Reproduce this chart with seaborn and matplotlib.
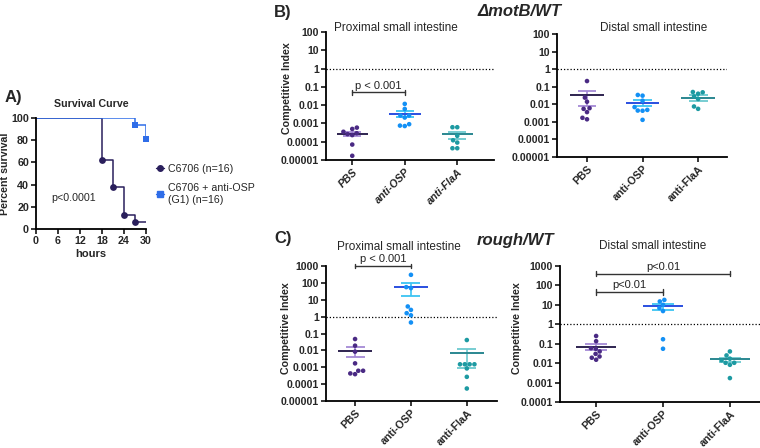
import numpy as np
import pandas as pd
import matplotlib
matplotlib.use('Agg')
import matplotlib.pyplot as plt
from matplotlib.lines import Line2D
import seaborn as sns
import warnings
warnings.filterwarnings('ignore')

sns.set_theme(style='ticks')
plt.rcParams['font.family'] = ['Liberation Sans', 'DejaVu Sans']

# ---- data ----
groups = ['PBS', 'anti-OSP', 'anti-FlaA']

# A) survival, C6706 vs C6706 + anti-OSP
c6706_hours = [0, 18, 21, 24, 27, 30]
c6706_surv = [100, 62.5, 37.5, 12.5, 6.25, 6.25]
osp_hours = [0, 27, 30]
osp_surv = [100, 93.75, 81.25]

# B) motB/WT, proximal
motb_prox = {
    'PBS': [5.9e-4, 5.0e-4, 3.5e-4, 2.9e-4, 2.6e-4, 2.3e-4, 7e-5, 1.7e-5],
    'anti-OSP': [0.0117, 0.0062, 0.0027, 0.0027, 0.0021, 9.1e-4, 7.6e-4, 7.2e-4],
    'anti-FlaA': [6.2e-4, 6.2e-4, 2.1e-4, 1.2e-4, 9e-5, 4.4e-5, 4.4e-5],
}
motb_prox_mean = [2.8e-4, 3.3e-3, 2.5e-4]
motb_prox_hi = [3.5e-4, 4.8e-3, 3.5e-4]
motb_prox_lo = [2.1e-4, 2.2e-3, 1.4e-4]

# B) motB/WT, distal
motb_dist = {
    'PBS': [0.21, 0.024, 0.014, 0.006, 0.0055, 0.0036, 0.0014, 0.0017],
    'anti-OSP': [0.031, 0.034, 0.016, 0.0069, 0.0048, 0.0043, 0.0044, 0.0013],
    'anti-FlaA': [0.05, 0.04, 0.048, 0.028, 0.02, 0.0075, 0.0055],
}
motb_dist_mean = [0.033, 0.0126, 0.023]
motb_dist_hi = [0.058, 0.017, 0.033]
motb_dist_lo = [0.0078, 0.0078, 0.016]

# C) rough/WT, proximal
rough_prox = {
    'PBS': [0.047, 0.019, 0.0084, 0.0017, 3.9e-4, 6.2e-4, 6.2e-4, 4.3e-4],
    'anti-OSP': [300, 56, 49, 4.0, 2.5, 1.6, 1.2, 0.45],
    'anti-FlaA': [0.041, 0.0015, 0.0015, 0.0015, 0.0015, 8.5e-4, 2.7e-4, 5.5e-5],
}
rough_prox_mean = [0.0095, 54, 0.0066]
rough_prox_hi = [0.015, 94, 0.012]
rough_prox_lo = [0.0038, 16, 8.5e-4]

# C) rough/WT, distal
rough_dist = {
    'PBS': [0.25, 0.135, 0.055, 0.059, 0.04, 0.015, 0.022, 0.019, 0.03],
    'anti-OSP': [15, 18, 10, 6.9, 4.8, 0.17, 0.055],
    'anti-FlaA': [0.04, 0.025, 0.017, 0.014, 0.0104, 0.0104, 0.0082, 0.0017],
}
rough_dist_mean = [0.066, 8.3, 0.0155]
rough_dist_hi = [0.095, 11.5, 0.0195]
rough_dist_lo = [0.045, 5.6, 0.011]

ticks_b = [1e-5, 1e-4, 1e-3, 1e-2, 1e-1, 1, 10, 100]
ticklabels_b = ['0.00001', '0.0001', '0.001', '0.01', '0.1', '1', '10', '100']

point_colors = ['#4a2a84', '#1390f5', '#1d9aa2']
mean_colors = ['#2e2450', '#2a4fe0', '#2a8790']
sem_colors = ['#a58ad6', '#3cc4f2', '#6cc9cf']

W, H = 760, 448


def fx(px):
    return px / W


def fy(py):
    return 1 - py / H


def add_axes(fig, left, top, right, bottom):
    return fig.add_axes([fx(left), fy(bottom), (right - left) / W, (bottom - top) / H])


def style_axes(ax):
    sns.despine(ax=ax)
    for s in ['left', 'bottom']:
        ax.spines[s].set_linewidth(1.3)
        ax.spines[s].set_color('black')
    ax.tick_params(axis='both', which='major', length=3.5, width=1.1, color='black', pad=1.5)
    ax.tick_params(axis='y', which='minor', length=1.8, width=0.7, color='black')


def dot_panel(ax, pts, means, hi, lo, xlim, ylim, yticks, yticklabels, italic=False,
              ylabel_x=None, ylabel_y=0.54):
    df = pd.DataFrame([(g, v) for g in groups for v in pts[g]], columns=['group', 'ci'])
    sns.swarmplot(data=df, x='group', y='ci', order=groups, hue='group', hue_order=groups,
                  palette=point_colors, size=3.3, legend=False, log_scale=True,
                  linewidth=0, zorder=5, ax=ax)
    for i in range(len(groups)):
        ax.vlines(i, lo[i], hi[i], color=sem_colors[i], lw=1.2, zorder=3)
        ax.hlines([hi[i], lo[i]], i - 0.17, i + 0.17, color=sem_colors[i], lw=1.3, zorder=3)
        ax.hlines(means[i], i - 0.3, i + 0.3, color=mean_colors[i], lw=1.4, zorder=4)
    ax.axhline(1, color='black', ls=(0, (1, 1.6)), lw=0.9, zorder=1)
    ax.set_xlim(*xlim)
    ax.set_ylim(*ylim)
    ax.set_yticks(yticks)
    ax.set_yticklabels(yticklabels, fontsize=7.6, fontweight='bold')
    ax.set_xticks(range(len(groups)))
    ax.set_xticklabels(groups, rotation=45, ha='right', rotation_mode='anchor',
                       fontsize=7.7, fontweight='bold', style='italic' if italic else 'normal')
    ax.set_xlabel('')
    if ylabel_x is None:
        ax.set_ylabel('')
    else:
        ax.set_ylabel('Competitive Index', fontsize=7.7, fontweight='bold')
        ax.yaxis.set_label_coords(ylabel_x, ylabel_y)
    style_axes(ax)


def bracket(ax, x0, x1, y, label):
    ax.plot([x0, x1], [y, y], color='#333333', lw=1, clip_on=False, zorder=6)
    for x in (x0, x1):
        ax.plot([x, x], [y / 1.35, y * 1.35], color='#333333', lw=1, clip_on=False, zorder=6)
    ax.text((x0 + x1) / 2, y * 1.25, label, ha='center', va='bottom', fontsize=8,
            color='#222222', clip_on=False)


fig = plt.figure(figsize=(7.6, 4.48), dpi=100)
fig.patch.set_facecolor('white')

# ---- A) survival ----
axA = add_axes(fig, 36, 118, 146, 229)
sns.lineplot(x=c6706_hours, y=c6706_surv, drawstyle='steps-post', color='#2a1f5c',
             lw=1.1, estimator=None, sort=False, ax=axA)
sns.lineplot(x=osp_hours, y=osp_surv, drawstyle='steps-post', color='#2f6de8',
             lw=1.1, estimator=None, sort=False, ax=axA)
sns.scatterplot(x=c6706_hours[1:5], y=c6706_surv[1:5], color='#2a1f5c', marker='o',
                s=24, linewidth=0, zorder=5, ax=axA)
sns.scatterplot(x=osp_hours[1:], y=osp_surv[1:], color='#2f6de8', marker='s',
                s=22, linewidth=0, zorder=5, clip_on=False, ax=axA)
axA.set_xlim(0, 30)
axA.set_ylim(0, 100)
axA.set_xticks(range(0, 31, 6))
axA.set_yticks(range(0, 101, 20))
for lab in axA.get_xticklabels() + axA.get_yticklabels():
    lab.set_fontsize(7.7)
    lab.set_fontweight('bold')
axA.set_xlabel('hours', fontsize=8, fontweight='bold', labelpad=2)
axA.set_ylabel('Percent survival', fontsize=7.7, fontweight='bold')
axA.yaxis.set_label_coords(-0.235, 0.5)
axA.set_title('Survival Curve', fontsize=7.7, fontweight='bold', pad=8)
axA.text(10.2, 28, 'p<0.0001', ha='center', va='center', fontsize=7.7)
style_axes(axA)
axA.tick_params(axis='y', which='minor', length=0)

handles = [
    Line2D([], [], color='#2a1f5c', marker='o', markersize=4, lw=1),
    Line2D([], [], color='#2f6de8', marker='s', markersize=4, lw=1),
]
fig.legend(handles, ['C6706 (n=16)', 'C6706 + anti-OSP\n(G1) (n=16)'],
           loc='upper left', bbox_to_anchor=(fx(146), fy(154)), frameon=False,
           fontsize=7.7, handlelength=0.8, handletextpad=0.35, labelspacing=0.9)

# ---- B) motB/WT ----
axB1 = add_axes(fig, 326, 32, 494, 160)
dot_panel(axB1, motb_prox, motb_prox_mean, motb_prox_hi, motb_prox_lo,
          (-0.5, 2.7), (1e-5, 100), ticks_b, ticklabels_b, italic=True,
          ylabel_x=-0.2, ylabel_y=0.565)
bracket(axB1, 0, 1, 0.05, 'p < 0.001')

axB2 = add_axes(fig, 557, 34, 727, 157)
dot_panel(axB2, motb_dist, motb_dist_mean, motb_dist_hi, motb_dist_lo,
          (-0.54, 2.52), (1e-5, 100), ticks_b, ticklabels_b)

# ---- C) rough/WT ----
axC1 = add_axes(fig, 326, 266, 497, 401)
dot_panel(axC1, rough_prox, rough_prox_mean, rough_prox_hi, rough_prox_lo,
          (-0.52, 2.54), (1e-5, 1000), ticks_b + [1000], ticklabels_b + ['1000'],
          ylabel_x=-0.205, ylabel_y=0.54)
bracket(axC1, 0, 1, 1000, 'p < 0.001')

axC2 = add_axes(fig, 560, 266, 760, 402)
dot_panel(axC2, rough_dist, rough_dist_mean, rough_dist_hi, rough_dist_lo,
          (-0.54, 2.45), (1e-4, 1000), ticks_b[1:] + [1000], ticklabels_b[1:] + ['1000'],
          ylabel_x=-0.19, ylabel_y=0.54)
bracket(axC2, 0, 1, 46, 'p<0.01')
bracket(axC2, 0, 2, 400, 'p<0.01')

# ---- titles ----
fig.text(fx(396), fy(28), 'Proximal small intestine', ha='center', va='center', fontsize=8.5)
fig.text(fx(654), fy(28), 'Distal small intestine', ha='center', va='center', fontsize=8.5)
fig.text(fx(399), fy(247), 'Proximal small intestine', ha='center', va='center', fontsize=8.5)
fig.text(fx(653), fy(246), 'Distal small intestine', ha='center', va='center', fontsize=8.5)

fig.text(fx(5), fy(97), 'A)', ha='left', va='center', fontsize=12, fontweight='bold')
fig.text(fx(274), fy(13), 'B)', ha='left', va='center', fontsize=12, fontweight='bold')
fig.text(fx(274), fy(238), 'C)', ha='left', va='center', fontsize=12, fontweight='bold')
fig.text(fx(520), fy(11), '\u0394motB/WT', ha='center', va='center', fontsize=12,
         fontweight='bold', style='italic')
fig.text(fx(515), fy(240), 'rough/WT', ha='center', va='center', fontsize=12,
         fontweight='bold', style='italic')

fig.savefig('out.png', dpi=100, facecolor='white')
